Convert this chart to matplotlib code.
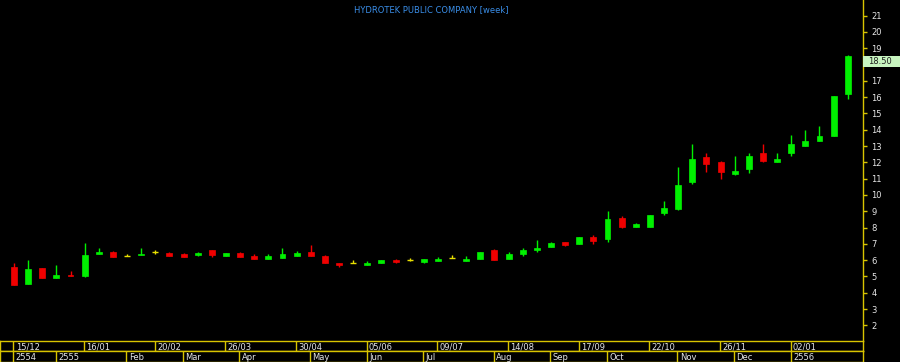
import matplotlib.pyplot as plt
import matplotlib.transforms as mtransforms
from matplotlib.patches import Rectangle

# weekly OHLC, Dec 2554 .. Jan 2556
opens = [5.6, 4.55, 5.5, 4.9, 5.1, 5.0, 6.35, 6.5, 6.25, 6.3,
         6.5, 6.45, 6.35, 6.3, 6.6, 6.25, 6.45, 6.25, 6.1, 6.15,
         6.25, 6.5, 6.25, 5.85, 5.85, 5.7, 5.8, 6.0, 6.0, 5.9,
         5.95, 6.15, 5.95, 6.05, 6.6, 6.1, 6.35, 6.6, 6.8, 7.1,
         7.0, 7.4, 7.3, 8.6, 8.05, 8.05, 8.9, 9.15, 10.8, 12.3,
         12.0, 11.3, 11.6, 12.6, 12.05, 12.55, 13.0, 13.3, 13.6, 16.2]
highs = [5.8, 6.0, 5.5, 5.7, 5.35, 7.05, 6.75, 6.55, 6.4, 6.75,
         6.6, 6.5, 6.45, 6.5, 6.6, 6.45, 6.5, 6.35, 6.35, 6.75,
         6.55, 6.9, 6.3, 5.85, 6.0, 5.95, 6.0, 6.1, 6.15, 6.1,
         6.2, 6.3, 6.25, 6.5, 6.7, 6.5, 6.75, 7.25, 7.1, 7.1,
         7.45, 7.55, 9.0, 8.7, 8.3, 8.75, 9.65, 11.7, 13.1, 12.6,
         12.1, 12.4, 12.6, 13.1, 12.6, 13.7, 14.0, 14.25, 16.1, 18.6]
lows = [4.5, 4.55, 4.9, 4.9, 5.0, 4.95, 6.35, 6.2, 6.25, 6.3,
        6.35, 6.25, 6.2, 6.25, 6.2, 6.25, 6.2, 6.1, 6.05, 6.15,
        6.25, 6.25, 5.85, 5.55, 5.8, 5.7, 5.8, 5.8, 5.95, 5.85,
        5.95, 6.15, 5.95, 6.05, 6.0, 6.1, 6.25, 6.5, 6.8, 6.85,
        7.0, 7.0, 7.1, 7.95, 8.05, 8.05, 8.8, 9.05, 10.7, 11.4,
        11.0, 11.2, 11.35, 12.05, 12.05, 12.4, 13.0, 13.3, 13.6, 15.9]
closes = [4.5, 5.45, 4.9, 5.1, 5.0, 6.3, 6.5, 6.2, 6.25, 6.4,
          6.5, 6.25, 6.2, 6.45, 6.3, 6.45, 6.2, 6.1, 6.25, 6.35,
          6.45, 6.25, 5.85, 5.7, 5.85, 5.85, 6.0, 5.9, 6.0, 6.05,
          6.1, 6.15, 6.1, 6.5, 6.0, 6.35, 6.6, 6.75, 7.05, 6.95,
          7.4, 7.2, 8.55, 8.05, 8.2, 8.75, 9.2, 10.6, 12.2, 11.9,
          11.4, 11.45, 12.4, 12.1, 12.2, 13.1, 13.3, 13.6, 16.1, 18.5]

week_ticks = [0, 5, 10, 15, 20, 25, 30, 35, 40, 45, 50, 55]
week_labels = ['15/12', '16/01', '20/02', '26/03', '30/04', '05/06',
               '09/07', '14/08', '17/09', '22/10', '26/11', '02/01']
month_ticks = [0, 3, 8, 12, 16, 21, 25, 29, 34, 38, 42, 47, 51, 55]
month_labels = ['2554', '2555', 'Feb', 'Mar', 'Apr', 'May', 'Jun', 'Jul',
                'Aug', 'Sep', 'Oct', 'Nov', 'Dec', '2556']
price_ticks = list(range(2, 22))
last_price = 18.50

GREEN = '#00f000'
RED = '#f00000'
DOJI = '#e8e000'
GOLD = '#d8c400'
W, H = 900, 362

fig = plt.figure(figsize=(9, 3.62), dpi=100, facecolor='black')
right = 863 / W
ax = fig.add_axes([0, 21 / H, right, 341 / H], facecolor='black')
xlim = (-0.99, 60.08)
ax.set_xlim(*xlim)
ax.set_ylim(1.04, 21.96)

n = len(opens)
for i in range(n):
    o, h, l, c = opens[i], highs[i], lows[i], closes[i]
    if c > o:
        col = GREEN
    elif c < o:
        col = RED
    else:
        col = DOJI
    ax.vlines(i, l, h, color=col, linewidth=1.0)
    if c == o:
        ax.hlines(o, i - 0.21, i + 0.21, color=col, linewidth=1.0)
    else:
        ax.bar(i, abs(c - o), bottom=min(o, c), width=0.42, color=col,
               edgecolor=col, linewidth=0.5)

for s in ['top', 'left', 'bottom']:
    ax.spines[s].set_visible(False)
ax.spines['right'].set_color(GOLD)
ax.spines['right'].set_linewidth(1.0)
ax.set_xticks([])
ax.yaxis.tick_right()
ax.set_yticks(price_ticks)
# the last-price box sits over the 18 label
ax.set_yticklabels(['' if last_price - 0.7 < t <= last_price else str(t)
                    for t in price_ticks])
ax.tick_params(axis='y', colors=GOLD, labelcolor='#e6e6e6', labelsize=6,
               length=3, width=1, pad=3)

ax.text(0.5, 0.985, 'HYDROTEK PUBLIC COMPANY [week]', transform=ax.transAxes,
        ha='center', va='top', color='#3a8ee8', fontsize=6)

# last price box on the axis
tr = mtransforms.blended_transform_factory(ax.transAxes, ax.transData)
ax.add_patch(Rectangle((1.0, last_price - 0.66), 37 / 863, 0.68,
                       transform=tr, facecolor='#c8f5c0', edgecolor='none',
                       clip_on=False, zorder=5))
ax.text(1.006, last_price - 0.32, f'{last_price:.2f}', transform=tr,
        ha='left', va='center', color='#202020', fontsize=6, clip_on=False,
        zorder=6)

# date bands
band1 = fig.add_axes([0, 11 / H, right, 10 / H], facecolor='black')
band2 = fig.add_axes([0, 0, right, 11 / H], facecolor='black')
for b, ticks, labels in [(band1, week_ticks, week_labels),
                         (band2, month_ticks, month_labels)]:
    b.set_xlim(*xlim)
    b.set_ylim(0, 1)
    b.set_xticks([])
    b.set_yticks([])
    for s in b.spines.values():
        s.set_color(GOLD)
        s.set_linewidth(1.0)
    for t, lab in zip(ticks, labels):
        b.axvline(t - 0.05, color=GOLD, linewidth=1.0)
        b.text(t + 0.12, 0.45, lab, color='#e6e6e6', fontsize=6,
               ha='left', va='center')

fig.savefig('out.png', dpi=100, facecolor='black')
